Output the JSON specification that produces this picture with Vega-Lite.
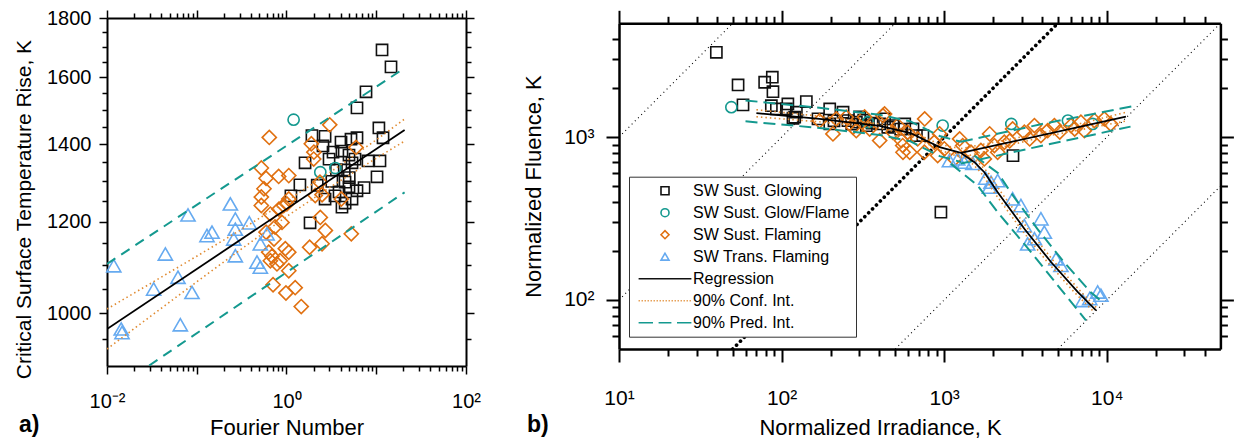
{
  "$schema": "https://vega.github.io/schema/vega-lite/v6.json",
  "background": "white",
  "padding": {"left": 13, "top": 8, "right": 0, "bottom": 0},
  "spacing": 41,
  "config": {
    "view": {"stroke": null},
    "font": "Liberation Sans",
    "axis": {"grid": false, "domainColor": "black", "tickColor": "black", "labelColor": "black", "titleColor": "black", "labelFont": "Liberation Sans", "titleFont": "Liberation Sans", "titleFontWeight": "normal", "labelFlush": false, "labelOverlap": false}
  },
  "resolve": {"scale": {"color": "independent", "shape": "independent"}},
  "datasets": {
    "apts": [
      {"F": 11.6, "T": 1689, "series": "SW Sust. Glowing"}, {"F": 14.6, "T": 1633, "series": "SW Sust. Glowing"}, {"F": 7.69, "T": 1554, "series": "SW Sust. Glowing"}, {"F": 6.1, "T": 1505, "series": "SW Sust. Glowing"}, {"F": 10.7, "T": 1446, "series": "SW Sust. Glowing"}, {"F": 11.9, "T": 1418, "series": "SW Sust. Glowing"}, {"F": 1.92, "T": 1424, "series": "SW Sust. Glowing"}, {"F": 2.69, "T": 1422, "series": "SW Sust. Glowing"}, {"F": 2.55, "T": 1395, "series": "SW Sust. Glowing"}, {"F": 4.05, "T": 1406, "series": "SW Sust. Glowing"}, {"F": 5.23, "T": 1414, "series": "SW Sust. Glowing"}, {"F": 6.1, "T": 1418, "series": "SW Sust. Glowing"}, {"F": 1.61, "T": 1349, "series": "SW Sust. Glowing"}, {"F": 2.98, "T": 1359, "series": "SW Sust. Glowing"}, {"F": 3.3, "T": 1378, "series": "SW Sust. Glowing"}, {"F": 4.15, "T": 1381, "series": "SW Sust. Glowing"}, {"F": 4.97, "T": 1370, "series": "SW Sust. Glowing"}, {"F": 5.8, "T": 1359, "series": "SW Sust. Glowing"}, {"F": 8.09, "T": 1354, "series": "SW Sust. Glowing"}, {"F": 11.0, "T": 1354, "series": "SW Sust. Glowing"}, {"F": 10.2, "T": 1312, "series": "SW Sust. Glowing"}, {"F": 1.41, "T": 1291, "series": "SW Sust. Glowing"}, {"F": 1.12, "T": 1263, "series": "SW Sust. Glowing"}, {"F": 2.69, "T": 1255, "series": "SW Sust. Glowing"}, {"F": 3.85, "T": 1273, "series": "SW Sust. Glowing"}, {"F": 4.97, "T": 1286, "series": "SW Sust. Glowing"}, {"F": 6.1, "T": 1276, "series": "SW Sust. Glowing"}, {"F": 7.31, "T": 1284, "series": "SW Sust. Glowing"}, {"F": 5.37, "T": 1255, "series": "SW Sust. Glowing"}, {"F": 4.15, "T": 1235, "series": "SW Sust. Glowing"}, {"F": 4.49, "T": 1298, "series": "SW Sust. Glowing"}, {"F": 1.83, "T": 1197, "series": "SW Sust. Glowing"}, {"F": 3.47, "T": 1263, "series": "SW Sust. Glowing"}, {"F": 4.5, "T": 1245, "series": "SW Sust. Glowing"}, {"F": 5.37, "T": 1349, "series": "SW Sust. Glowing"}, {"F": 3.6, "T": 1330, "series": "SW Sust. Glowing"}, {"F": 4.4, "T": 1330, "series": "SW Sust. Glowing"}, {"F": 3.2, "T": 1300, "series": "SW Sust. Glowing"}, {"F": 5.0, "T": 1310, "series": "SW Sust. Glowing"}, {"F": 2.2, "T": 1290, "series": "SW Sust. Glowing"},
      {"F": 1.2, "T": 1470, "series": "SW Sust. Glow/Flame"}, {"F": 2.38, "T": 1324, "series": "SW Sust. Glow/Flame"}, {"F": 3.5, "T": 1335, "series": "SW Sust. Glow/Flame"},
      {"F": 0.643, "T": 1419, "series": "SW Sust. Flaming"}, {"F": 3.03, "T": 1455, "series": "SW Sust. Flaming"}, {"F": 1.89, "T": 1401, "series": "SW Sust. Flaming"}, {"F": 2.01, "T": 1359, "series": "SW Sust. Flaming"}, {"F": 0.524, "T": 1335, "series": "SW Sust. Flaming"}, {"F": 0.592, "T": 1308, "series": "SW Sust. Flaming"}, {"F": 0.818, "T": 1313, "series": "SW Sust. Flaming"}, {"F": 1.06, "T": 1315, "series": "SW Sust. Flaming"}, {"F": 2.09, "T": 1264, "series": "SW Sust. Flaming"}, {"F": 5.95, "T": 1391, "series": "SW Sust. Flaming"}, {"F": 4.08, "T": 1255, "series": "SW Sust. Flaming"}, {"F": 0.524, "T": 1260, "series": "SW Sust. Flaming"}, {"F": 0.561, "T": 1281, "series": "SW Sust. Flaming"}, {"F": 0.524, "T": 1239, "series": "SW Sust. Flaming"}, {"F": 0.661, "T": 1218, "series": "SW Sust. Flaming"}, {"F": 0.931, "T": 1239, "series": "SW Sust. Flaming"}, {"F": 0.891, "T": 1198, "series": "SW Sust. Flaming"}, {"F": 0.592, "T": 1175, "series": "SW Sust. Flaming"}, {"F": 0.745, "T": 1187, "series": "SW Sust. Flaming"}, {"F": 0.634, "T": 1129, "series": "SW Sust. Flaming"}, {"F": 0.661, "T": 1110, "series": "SW Sust. Flaming"}, {"F": 0.783, "T": 1103, "series": "SW Sust. Flaming"}, {"F": 1.06, "T": 1129, "series": "SW Sust. Flaming"}, {"F": 0.97, "T": 1137, "series": "SW Sust. Flaming"}, {"F": 1.06, "T": 1088, "series": "SW Sust. Flaming"}, {"F": 0.708, "T": 1058, "series": "SW Sust. Flaming"}, {"F": 0.986, "T": 1041, "series": "SW Sust. Flaming"}, {"F": 1.25, "T": 1052, "series": "SW Sust. Flaming"}, {"F": 1.46, "T": 1013, "series": "SW Sust. Flaming"}, {"F": 1.81, "T": 1140, "series": "SW Sust. Flaming"}, {"F": 2.49, "T": 1148, "series": "SW Sust. Flaming"}, {"F": 2.38, "T": 1210, "series": "SW Sust. Flaming"}, {"F": 2.71, "T": 1179, "series": "SW Sust. Flaming"}, {"F": 5.27, "T": 1171, "series": "SW Sust. Flaming"}, {"F": 2.02, "T": 1378, "series": "SW Sust. Flaming"}, {"F": 2.36, "T": 1298, "series": "SW Sust. Flaming"}, {"F": 2.49, "T": 1266, "series": "SW Sust. Flaming"}, {"F": 0.824, "T": 1230, "series": "SW Sust. Flaming"}, {"F": 0.726, "T": 1159, "series": "SW Sust. Flaming"}, {"F": 0.689, "T": 1120, "series": "SW Sust. Flaming"}, {"F": 0.848, "T": 1110, "series": "SW Sust. Flaming"}, {"F": 1.01, "T": 1243, "series": "SW Sust. Flaming"}, {"F": 1.06, "T": 1255, "series": "SW Sust. Flaming"},
      {"F": 0.0119, "T": 1099, "series": "SW Trans. Flaming"}, {"F": 0.0144, "T": 969, "series": "SW Trans. Flaming"}, {"F": 0.0147, "T": 962, "series": "SW Trans. Flaming"}, {"F": 0.0447, "T": 1125, "series": "SW Trans. Flaming"}, {"F": 0.0331, "T": 1049, "series": "SW Trans. Flaming"}, {"F": 0.0618, "T": 1074, "series": "SW Trans. Flaming"}, {"F": 0.0799, "T": 1216, "series": "SW Trans. Flaming"}, {"F": 0.0656, "T": 977, "series": "SW Trans. Flaming"}, {"F": 0.0885, "T": 1042, "series": "SW Trans. Flaming"}, {"F": 0.13, "T": 1167, "series": "SW Trans. Flaming"}, {"F": 0.148, "T": 1175, "series": "SW Trans. Flaming"}, {"F": 0.237, "T": 1243, "series": "SW Trans. Flaming"}, {"F": 0.269, "T": 1206, "series": "SW Trans. Flaming"}, {"F": 0.269, "T": 1182, "series": "SW Trans. Flaming"}, {"F": 0.258, "T": 1159, "series": "SW Trans. Flaming"}, {"F": 0.269, "T": 1121, "series": "SW Trans. Flaming"}, {"F": 0.385, "T": 1197, "series": "SW Trans. Flaming"}, {"F": 0.511, "T": 1148, "series": "SW Trans. Flaming"}, {"F": 0.469, "T": 1107, "series": "SW Trans. Flaming"}, {"F": 0.511, "T": 1096, "series": "SW Trans. Flaming"}, {"F": 0.607, "T": 1171, "series": "SW Trans. Flaming"}
    ],
    "areg": [{"F": 0.01, "T": 968.7, "band": "reg"}, {"F": 20.7, "T": 1440, "band": "reg"}],
    "aconf": [
      {"F": 0.01, "T": 1008.2, "band": "upper"}, {"F": 0.0316, "T": 1062.4, "band": "upper"}, {"F": 0.1, "T": 1120, "band": "upper"}, {"F": 0.316, "T": 1181.5, "band": "upper"}, {"F": 1, "T": 1249.8, "band": "upper"}, {"F": 3.16, "T": 1326.1, "band": "upper"}, {"F": 10, "T": 1412.1, "band": "upper"}, {"F": 20.7, "T": 1471.9, "band": "upper"},
      {"F": 0.01, "T": 931, "band": "lower"}, {"F": 0.0316, "T": 995.6, "band": "lower"}, {"F": 0.1, "T": 1064.3, "band": "lower"}, {"F": 0.316, "T": 1136.5, "band": "lower"}, {"F": 1, "T": 1212.1, "band": "lower"}, {"F": 3.16, "T": 1287.2, "band": "lower"}, {"F": 10, "T": 1361.3, "band": "lower"}, {"F": 20.7, "T": 1408.7, "band": "lower"}
    ],
    "apred": [
      {"F": 0.01, "T": 1103, "band": "upper"}, {"F": 20.7, "T": 1629, "band": "upper"},
      {"F": 0.01, "T": 851, "band": "lower"}, {"F": 20.7, "T": 1272, "band": "lower"}
    ],
    "bpts": [
      {"I": 39.7, "Fl": 3319, "series": "SW Sust. Glowing"}, {"I": 54, "Fl": 2092, "series": "SW Sust. Glowing"}, {"I": 78.7, "Fl": 2173, "series": "SW Sust. Glowing"}, {"I": 87.7, "Fl": 2333, "series": "SW Sust. Glowing"}, {"I": 88.5, "Fl": 1901, "series": "SW Sust. Glowing"}, {"I": 57.9, "Fl": 1578, "series": "SW Sust. Glowing"}, {"I": 86.5, "Fl": 1560, "series": "SW Sust. Glowing"}, {"I": 109.3, "Fl": 1599, "series": "SW Sust. Glowing"}, {"I": 142, "Fl": 1652, "series": "SW Sust. Glowing"}, {"I": 120.4, "Fl": 1325, "series": "SW Sust. Glowing"}, {"I": 167.5, "Fl": 1294, "series": "SW Sust. Glowing"}, {"I": 197.7, "Fl": 1489, "series": "SW Sust. Glowing"}, {"I": 238.8, "Fl": 1422, "series": "SW Sust. Glowing"}, {"I": 256, "Fl": 1263, "series": "SW Sust. Glowing"}, {"I": 288.4, "Fl": 1235, "series": "SW Sust. Glowing"}, {"I": 332, "Fl": 1177, "series": "SW Sust. Glowing"}, {"I": 401, "Fl": 1205, "series": "SW Sust. Glowing"}, {"I": 484, "Fl": 1177, "series": "SW Sust. Glowing"}, {"I": 643, "Fl": 1123, "series": "SW Sust. Glowing"}, {"I": 123.3, "Fl": 1422, "series": "SW Sust. Glowing"}, {"I": 107, "Fl": 1489, "series": "SW Sust. Glowing"}, {"I": 92.9, "Fl": 1489, "series": "SW Sust. Glowing"}, {"I": 117.5, "Fl": 1306, "series": "SW Sust. Glowing"}, {"I": 675, "Fl": 1022, "series": "SW Sust. Glowing"}, {"I": 740, "Fl": 1022, "series": "SW Sust. Glowing"}, {"I": 430, "Fl": 1294, "series": "SW Sust. Glowing"}, {"I": 2650, "Fl": 770, "series": "SW Sust. Glowing"}, {"I": 955, "Fl": 346, "series": "SW Sust. Glowing"}, {"I": 198, "Fl": 1205, "series": "SW Sust. Glowing"}, {"I": 302, "Fl": 1330, "series": "SW Sust. Glowing"}, {"I": 572, "Fl": 1205, "series": "SW Sust. Glowing"}, {"I": 210, "Fl": 1260, "series": "SW Sust. Glowing"}, {"I": 270, "Fl": 1200, "series": "SW Sust. Glowing"}, {"I": 320, "Fl": 1270, "series": "SW Sust. Glowing"}, {"I": 360, "Fl": 1220, "series": "SW Sust. Glowing"}, {"I": 450, "Fl": 1150, "series": "SW Sust. Glowing"}, {"I": 540, "Fl": 1120, "series": "SW Sust. Glowing"},
      {"I": 49.1, "Fl": 1527, "series": "SW Sust. Glow/Flame"}, {"I": 979, "Fl": 1177, "series": "SW Sust. Glow/Flame"}, {"I": 2588, "Fl": 1205, "series": "SW Sust. Glow/Flame"}, {"I": 5768, "Fl": 1263, "series": "SW Sust. Glow/Flame"}, {"I": 340, "Fl": 1235, "series": "SW Sust. Glow/Flame"}, {"I": 8185, "Fl": 1205, "series": "SW Sust. Glow/Flame"},
      {"I": 207, "Fl": 1047, "series": "SW Sust. Flaming"}, {"I": 275, "Fl": 1151, "series": "SW Sust. Flaming"}, {"I": 401, "Fl": 952, "series": "SW Sust. Flaming"}, {"I": 420, "Fl": 1355, "series": "SW Sust. Flaming"}, {"I": 546, "Fl": 952, "series": "SW Sust. Flaming"}, {"I": 614, "Fl": 808, "series": "SW Sust. Flaming"}, {"I": 484, "Fl": 1072, "series": "SW Sust. Flaming"}, {"I": 250, "Fl": 1325, "series": "SW Sust. Flaming"}, {"I": 217, "Fl": 1294, "series": "SW Sust. Flaming"}, {"I": 558, "Fl": 808, "series": "SW Sust. Flaming"}, {"I": 430, "Fl": 1389, "series": "SW Sust. Flaming"}, {"I": 518, "Fl": 1177, "series": "SW Sust. Flaming"}, {"I": 596, "Fl": 1072, "series": "SW Sust. Flaming"}, {"I": 556, "Fl": 887, "series": "SW Sust. Flaming"}, {"I": 871, "Fl": 931, "series": "SW Sust. Flaming"}, {"I": 1002, "Fl": 847, "series": "SW Sust. Flaming"}, {"I": 1300, "Fl": 887, "series": "SW Sust. Flaming"}, {"I": 1462, "Fl": 808, "series": "SW Sust. Flaming"}, {"I": 1682, "Fl": 827, "series": "SW Sust. Flaming"}, {"I": 2037, "Fl": 887, "series": "SW Sust. Flaming"}, {"I": 2345, "Fl": 931, "series": "SW Sust. Flaming"}, {"I": 2637, "Fl": 1123, "series": "SW Sust. Flaming"}, {"I": 3112, "Fl": 1072, "series": "SW Sust. Flaming"}, {"I": 3590, "Fl": 1177, "series": "SW Sust. Flaming"}, {"I": 3936, "Fl": 1022, "series": "SW Sust. Flaming"}, {"I": 4764, "Fl": 1177, "series": "SW Sust. Flaming"}, {"I": 6026, "Fl": 1177, "series": "SW Sust. Flaming"}, {"I": 6934, "Fl": 1235, "series": "SW Sust. Flaming"}, {"I": 8395, "Fl": 1263, "series": "SW Sust. Flaming"}, {"I": 9660, "Fl": 1294, "series": "SW Sust. Flaming"}, {"I": 7279, "Fl": 1096, "series": "SW Sust. Flaming"}, {"I": 4331, "Fl": 1096, "series": "SW Sust. Flaming"}, {"I": 2133, "Fl": 808, "series": "SW Sust. Flaming"}, {"I": 1766, "Fl": 735, "series": "SW Sust. Flaming"}, {"I": 1156, "Fl": 735, "series": "SW Sust. Flaming"}, {"I": 912, "Fl": 770, "series": "SW Sust. Flaming"}, {"I": 755, "Fl": 808, "series": "SW Sust. Flaming"}, {"I": 687, "Fl": 975, "series": "SW Sust. Flaming"}, {"I": 288, "Fl": 1096, "series": "SW Sust. Flaming"}, {"I": 171, "Fl": 1258, "series": "SW Sust. Flaming"}, {"I": 324, "Fl": 1330, "series": "SW Sust. Flaming"}, {"I": 348, "Fl": 1123, "series": "SW Sust. Flaming"}, {"I": 759, "Fl": 1294, "series": "SW Sust. Flaming"}, {"I": 938, "Fl": 1047, "series": "SW Sust. Flaming"}, {"I": 1245, "Fl": 975, "series": "SW Sust. Flaming"}, {"I": 1905, "Fl": 1047, "series": "SW Sust. Flaming"}, {"I": 2530, "Fl": 948, "series": "SW Sust. Flaming"}, {"I": 3357, "Fl": 975, "series": "SW Sust. Flaming"}, {"I": 5140, "Fl": 1076, "series": "SW Sust. Flaming"}, {"I": 6350, "Fl": 1123, "series": "SW Sust. Flaming"}, {"I": 10570, "Fl": 1205, "series": "SW Sust. Flaming"},
      {"I": 1211, "Fl": 735, "series": "SW Trans. Flaming"}, {"I": 1330, "Fl": 702, "series": "SW Trans. Flaming"}, {"I": 1077, "Fl": 718, "series": "SW Trans. Flaming"}, {"I": 1941, "Fl": 529, "series": "SW Trans. Flaming"}, {"I": 2133, "Fl": 541, "series": "SW Trans. Flaming"}, {"I": 1897, "Fl": 493, "series": "SW Trans. Flaming"}, {"I": 2637, "Fl": 418, "series": "SW Trans. Flaming"}, {"I": 2965, "Fl": 380, "series": "SW Trans. Flaming"}, {"I": 3111, "Fl": 286, "series": "SW Trans. Flaming"}, {"I": 3936, "Fl": 315, "series": "SW Trans. Flaming"}, {"I": 3263, "Fl": 221, "series": "SW Trans. Flaming"}, {"I": 3590, "Fl": 238, "series": "SW Trans. Flaming"}, {"I": 4130, "Fl": 261, "series": "SW Trans. Flaming"}, {"I": 4870, "Fl": 179, "series": "SW Trans. Flaming"}, {"I": 5224, "Fl": 163, "series": "SW Trans. Flaming"}, {"I": 7112, "Fl": 99.3, "series": "SW Trans. Flaming"}, {"I": 8790, "Fl": 112, "series": "SW Trans. Flaming"}, {"I": 9204, "Fl": 107, "series": "SW Trans. Flaming"}, {"I": 7854, "Fl": 102, "series": "SW Trans. Flaming"}, {"I": 1500, "Fl": 690, "series": "SW Trans. Flaming"}, {"I": 1800, "Fl": 560, "series": "SW Trans. Flaming"}
    ],
    "breg": [
      {"I": 70, "Fl": 1403, "band": "left"}, {"I": 171, "Fl": 1294, "band": "left"}, {"I": 401, "Fl": 1172, "band": "left"}, {"I": 620, "Fl": 1060, "band": "left"}, {"I": 938, "Fl": 868, "band": "left"}, {"I": 1268, "Fl": 800, "band": "left"},
      {"I": 1268, "Fl": 800, "band": "right"}, {"I": 13120, "Fl": 1336, "band": "right"},
      {"I": 1268, "Fl": 800, "band": "down"}, {"I": 1535, "Fl": 702, "band": "down"}, {"I": 1766, "Fl": 609, "band": "down"}, {"I": 2133, "Fl": 459, "band": "down"}, {"I": 3112, "Fl": 274, "band": "down"}, {"I": 4540, "Fl": 171, "band": "down"}, {"I": 6622, "Fl": 112, "band": "down"}, {"I": 8590, "Fl": 86.3, "band": "down"}
    ],
    "bconf": [
      {"I": 70, "Fl": 1473, "band": "LU"}, {"I": 171, "Fl": 1346, "band": "LU"}, {"I": 401, "Fl": 1207, "band": "LU"}, {"I": 620, "Fl": 1095, "band": "LU"}, {"I": 938, "Fl": 903, "band": "LU"}, {"I": 1268, "Fl": 848, "band": "LU"},
      {"I": 70, "Fl": 1333, "band": "LL"}, {"I": 171, "Fl": 1242, "band": "LL"}, {"I": 401, "Fl": 1137, "band": "LL"}, {"I": 620, "Fl": 1025, "band": "LL"}, {"I": 938, "Fl": 833, "band": "LL"}, {"I": 1268, "Fl": 752, "band": "LL"},
      {"I": 1268, "Fl": 850, "band": "RU"}, {"I": 4000, "Fl": 1060, "band": "RU"}, {"I": 13120, "Fl": 1420, "band": "RU"},
      {"I": 1268, "Fl": 750, "band": "RL"}, {"I": 4000, "Fl": 1000, "band": "RL"}, {"I": 13120, "Fl": 1255, "band": "RL"},
      {"I": 1331, "Fl": 800, "band": "DR"}, {"I": 1612, "Fl": 702, "band": "DR"}, {"I": 1854, "Fl": 609, "band": "DR"}, {"I": 2240, "Fl": 459, "band": "DR"}, {"I": 3268, "Fl": 274, "band": "DR"}, {"I": 4767, "Fl": 171, "band": "DR"}, {"I": 6953, "Fl": 112, "band": "DR"}, {"I": 8800, "Fl": 88, "band": "DR"},
      {"I": 1205, "Fl": 800, "band": "DL"}, {"I": 1458, "Fl": 702, "band": "DL"}, {"I": 1678, "Fl": 609, "band": "DL"}, {"I": 2026, "Fl": 459, "band": "DL"}, {"I": 2956, "Fl": 274, "band": "DL"}, {"I": 4313, "Fl": 171, "band": "DL"}, {"I": 6291, "Fl": 112, "band": "DL"}, {"I": 8300, "Fl": 85, "band": "DL"}
    ],
    "bpred": [
      {"I": 60, "Fl": 1680, "band": "LU"}, {"I": 171, "Fl": 1514, "band": "LU"}, {"I": 401, "Fl": 1371, "band": "LU"}, {"I": 620, "Fl": 1250, "band": "LU"}, {"I": 938, "Fl": 1016, "band": "LU"}, {"I": 1268, "Fl": 936, "band": "LU"},
      {"I": 60, "Fl": 1250, "band": "LL"}, {"I": 171, "Fl": 1139, "band": "LL"}, {"I": 401, "Fl": 1031, "band": "LL"}, {"I": 620, "Fl": 943, "band": "LL"}, {"I": 938, "Fl": 764, "band": "LL"}, {"I": 1268, "Fl": 704, "band": "LL"},
      {"I": 1268, "Fl": 936, "band": "RU"}, {"I": 4000, "Fl": 1204, "band": "RU"}, {"I": 15000, "Fl": 1560, "band": "RU"},
      {"I": 1268, "Fl": 688, "band": "RL"}, {"I": 4000, "Fl": 885, "band": "RL"}, {"I": 14000, "Fl": 1160, "band": "RL"},
      {"I": 1102, "Fl": 685, "band": "DL"}, {"I": 1607, "Fl": 504, "band": "DL"}, {"I": 2133, "Fl": 346, "band": "DL"}, {"I": 3420, "Fl": 197, "band": "DL"}, {"I": 4990, "Fl": 123, "band": "DL"}, {"I": 7447, "Fl": 74.9, "band": "DL"},
      {"I": 1535, "Fl": 770, "band": "DR"}, {"I": 2150, "Fl": 600, "band": "DR"}, {"I": 2560, "Fl": 459, "band": "DR"}, {"I": 3734, "Fl": 274, "band": "DR"}, {"I": 5448, "Fl": 171, "band": "DR"}, {"I": 7946, "Fl": 112, "band": "DR"}, {"I": 9300, "Fl": 98, "band": "DR"}
    ],
    "bdiag": [
      {"I": 10, "Fl": 1000, "band": "x100"}, {"I": 50, "Fl": 5000, "band": "x100"},
      {"I": 10, "Fl": 100, "band": "x10"}, {"I": 500, "Fl": 5000, "band": "x10"},
      {"I": 500, "Fl": 50, "band": "x0.1"}, {"I": 50000, "Fl": 5000, "band": "x0.1"},
      {"I": 5000, "Fl": 50, "band": "x0.01"}, {"I": 50000, "Fl": 500, "band": "x0.01"}
    ],
    "bdiag1": [{"I": 50, "Fl": 50, "band": "x1"}, {"I": 5000, "Fl": 5000, "band": "x1"}]
  },
  "hconcat": [
    {
      "width": 359,
      "height": 348,
      "title": {"text": "a)", "orient": "bottom", "anchor": "start", "frame": "group", "dx": -88, "offset": -6, "baseline": "alphabetic", "fontSize": 23, "fontWeight": "bold", "font": "Liberation Sans", "color": "black"},
      "layer": [
        {
          "data": {"name": "apts"},
          "mark": {"type": "point", "filled": false, "strokeWidth": 1.6, "opacity": 1},
          "encoding": {
            "x": {"field": "F", "type": "quantitative", "scale": {"type": "log", "domain": [0.01, 100], "nice": false},
              "axis": {"orient": "bottom", "values": [0.01, 0.1, 1, 10, 100], "tickSize": 8, "tickWidth": 1.5, "domainWidth": 2, "labelExpr": "datum.value == 0.01 ? '10⁻²' : datum.value == 1 ? '10⁰' : datum.value == 100 ? '10²' : ''", "labelFontSize": 20, "labelBaseline": "alphabetic", "labelPadding": 33, "title": "Fourier Number", "titleFontSize": 22, "titleY": 68, "titleBaseline": "alphabetic"}},
            "y": {"field": "T", "type": "quantitative", "scale": {"type": "log", "domain": [900, 1800], "nice": false, "zero": false},
              "axis": {"orient": "left", "values": [1000, 1200, 1400, 1600, 1800], "tickSize": 8, "tickWidth": 1.5, "domainWidth": 2, "labelFontSize": 20, "labelPadding": 8, "format": "d", "title": "Critical Surface Temperature Rise, K", "titleFontSize": 21, "titleY": 191, "titlePadding": 12}},
            "color": {"field": "series", "type": "nominal", "legend": null,
              "scale": {"domain": ["SW Sust. Glowing", "SW Sust. Glow/Flame", "SW Sust. Flaming", "SW Trans. Flaming"], "range": ["#111111", "#14998f", "#e07010", "#66aaf0"]}},
            "shape": {"field": "series", "type": "nominal", "legend": null,
              "scale": {"domain": ["SW Sust. Glowing", "SW Sust. Glow/Flame", "SW Sust. Flaming", "SW Trans. Flaming"], "range": ["square", "circle", "diamond", "triangle-up"]}},
            "size": {"condition": {"test": "datum.series == 'SW Sust. Flaming' || datum.series == 'SW Trans. Flaming'", "value": 200}, "value": 125}
          }
        },
        {
          "data": {"name": "apred"},
          "mark": {"type": "line", "clip": true, "color": "#14998f", "strokeWidth": 2, "strokeDash": [10, 7]},
          "encoding": {
            "x": {"field": "F", "type": "quantitative", "scale": {"type": "log", "domain": [0.01, 100], "nice": false},
              "axis": {"orient": "bottom", "values": [0.02, 0.03, 0.04, 0.05, 0.06, 0.07, 0.08, 0.09, 0.2, 0.3, 0.4, 0.5, 0.6, 0.7, 0.8, 0.9, 2, 3, 4, 5, 6, 7, 8, 9, 20, 30, 40, 50, 60, 70, 80, 90], "tickSize": 5, "tickWidth": 1.5, "domain": false, "labels": false, "title": null}},
            "y": {"field": "T", "type": "quantitative", "scale": {"type": "log", "domain": [900, 1800], "nice": false, "zero": false},
              "axis": {"orient": "left", "values": [950, 1050, 1100, 1150, 1250, 1300, 1350, 1450, 1500, 1550, 1650, 1700, 1750], "tickSize": 5, "tickWidth": 1.5, "domain": false, "labels": false, "title": null}},
            "detail": {"field": "band"}
          }
        },
        {
          "data": {"name": "aconf"},
          "mark": {"type": "line", "clip": true, "color": "#e08a30", "strokeWidth": 1.6, "strokeDash": [1.5, 3]},
          "encoding": {
            "x": {"field": "F", "type": "quantitative", "scale": {"type": "log", "domain": [0.01, 100], "nice": false},
              "axis": {"orient": "top", "values": [0.01, 0.1, 1, 10, 100], "tickSize": 8, "tickWidth": 1.5, "domainWidth": 2, "labels": false, "title": null}},
            "y": {"field": "T", "type": "quantitative", "scale": {"type": "log", "domain": [900, 1800], "nice": false, "zero": false},
              "axis": {"orient": "right", "values": [1000, 1200, 1400, 1600, 1800], "tickSize": 8, "tickWidth": 1.5, "domainWidth": 2, "labels": false, "title": null}},
            "detail": {"field": "band"}
          }
        },
        {
          "data": {"name": "areg"},
          "mark": {"type": "line", "clip": true, "color": "black", "strokeWidth": 1.8},
          "encoding": {
            "x": {"field": "F", "type": "quantitative", "scale": {"type": "log", "domain": [0.01, 100], "nice": false},
              "axis": {"orient": "top", "values": [0.02, 0.03, 0.04, 0.05, 0.06, 0.07, 0.08, 0.09, 0.2, 0.3, 0.4, 0.5, 0.6, 0.7, 0.8, 0.9, 2, 3, 4, 5, 6, 7, 8, 9, 20, 30, 40, 50, 60, 70, 80, 90], "tickSize": 5, "tickWidth": 1.5, "domain": false, "labels": false, "title": null}},
            "y": {"field": "T", "type": "quantitative", "scale": {"type": "log", "domain": [900, 1800], "nice": false, "zero": false},
              "axis": {"orient": "right", "values": [950, 1050, 1100, 1150, 1250, 1300, 1350, 1450, 1500, 1550, 1650, 1700, 1750], "tickSize": 5, "tickWidth": 1.5, "domain": false, "labels": false, "title": null}},
            "detail": {"field": "band"}
          }
        }
      ],
      "resolve": {"axis": {"x": "independent", "y": "independent"}}
    },
    {
      "width": 601.4,
      "height": 331,
      "title": {"text": "b)", "orient": "bottom", "anchor": "start", "frame": "group", "dx": -92, "offset": -6, "baseline": "alphabetic", "fontSize": 23, "fontWeight": "bold", "font": "Liberation Sans", "color": "black"},
      "layer": [
        {
          "data": {"name": "bdiag"},
          "mark": {"type": "line", "clip": true, "color": "black", "strokeWidth": 1.1, "strokeDash": [1, 3.5]},
          "encoding": {
            "x": {"field": "I", "type": "quantitative", "scale": {"type": "log", "domain": [10, 50000], "nice": false},
              "axis": {"orient": "bottom", "values": [20, 30, 40, 50, 60, 70, 80, 90, 200, 300, 400, 500, 600, 700, 800, 900, 2000, 3000, 4000, 5000, 6000, 7000, 8000, 9000, 20000, 30000, 40000], "tickSize": 7, "tickWidth": 2, "domain": false, "labels": false, "title": null}},
            "y": {"field": "Fl", "type": "quantitative", "scale": {"type": "log", "domain": [50, 5000], "nice": false, "range": [331, 5.3]},
              "axis": {"orient": "left", "values": [60, 70, 80, 90, 200, 300, 400, 500, 600, 700, 800, 900, 2000, 3000, 4000], "tickSize": 7, "tickWidth": 2, "domain": false, "labels": false, "title": null}},
            "detail": {"field": "band"}
          }
        },
        {
          "data": {"name": "bdiag1"},
          "mark": {"type": "line", "clip": true, "color": "black", "strokeWidth": 3.6, "strokeDash": [0.1, 5.4], "strokeCap": "round"},
          "encoding": {
            "x": {"field": "I", "type": "quantitative", "scale": {"type": "log", "domain": [10, 50000], "nice": false},
              "axis": {"orient": "top", "offset": -5.3, "values": [10, 100, 1000, 10000], "tickSize": 13, "tickWidth": 2, "domainWidth": 2.5, "labels": false, "title": null}},
            "y": {"field": "Fl", "type": "quantitative", "scale": {"type": "log", "domain": [50, 5000], "nice": false, "range": [331, 5.3]},
              "axis": {"orient": "right", "values": [100, 1000], "tickSize": 13, "tickWidth": 2, "domainWidth": 2.5, "labels": false, "title": null}},
            "detail": {"field": "band"}
          }
        },
        {
          "data": {"name": "bpts"},
          "mark": {"type": "point", "filled": false, "strokeWidth": 1.6, "opacity": 1},
          "encoding": {
            "x": {"field": "I", "type": "quantitative", "scale": {"type": "log", "domain": [10, 50000], "nice": false},
              "axis": {"orient": "bottom", "values": [10, 100, 1000, 10000], "tickSize": 13, "tickWidth": 2, "domainWidth": 2.5, "labelExpr": "datum.value == 10 ? '10¹' : datum.value == 100 ? '10²' : datum.value == 1000 ? '10³' : '10⁴'", "labelFontSize": 21, "labelBaseline": "alphabetic", "labelPadding": 42, "title": "Normalized Irradiance, K", "titleFontSize": 22, "titleX": 261, "titleY": 85, "titleBaseline": "alphabetic", "titleAlign": "center"}},
            "y": {"field": "Fl", "type": "quantitative", "scale": {"type": "log", "domain": [50, 5000], "nice": false, "range": [331, 5.3]},
              "axis": {"orient": "left", "values": [100, 1000], "tickSize": 13, "tickWidth": 2, "domainWidth": 2.5, "labelExpr": "datum.value == 100 ? '10²' : '10³'", "labelFontSize": 21, "labelPadding": 12, "title": "Normalized Fluence, K", "titleFontSize": 22, "titlePadding": 18, "titleY": 168}},
            "color": {"field": "series", "type": "nominal",
              "scale": {"domain": ["SW Sust. Glowing", "SW Sust. Glow/Flame", "SW Sust. Flaming", "SW Trans. Flaming", "Regression", "90% Conf. Int.", "90% Pred. Int."], "range": ["#111111", "#14998f", "#e07010", "#66aaf0", "#111111", "#e08a30", "#14998f"]},
              "legend": {"orient": "none", "legendX": 10, "legendY": 158.7, "title": null, "padding": 6, "strokeColor": "#333333", "fillColor": "white", "symbolSize": 64, "symbolStrokeWidth": 1.6, "symbolOffset": 22, "labelOffset": 20, "labelFont": "Liberation Sans", "labelFontSize": 16, "labelColor": "black", "labelLimit": 300, "rowPadding": 6}},
            "shape": {"field": "series", "type": "nominal",
              "scale": {"domain": ["SW Sust. Glowing", "SW Sust. Glow/Flame", "SW Sust. Flaming", "SW Trans. Flaming", "Regression", "90% Conf. Int.", "90% Pred. Int."], "range": ["square", "circle", "diamond", "triangle-up", "M-6.6,0H6.6", "M-6.6,0h0.3M-5.85,0h0.3M-5.1,0h0.3M-4.35,0h0.3M-3.6,0h0.3M-2.85,0h0.3M-2.1,0h0.3M-1.35,0h0.3M-0.6,0h0.3M0.15,0h0.3M0.9,0h0.3M1.65,0h0.3M2.4,0h0.3M3.15,0h0.3M3.9,0h0.3M4.65,0h0.3M5.4,0h0.3M6.15,0h0.3", "M-6.6,0H-3M-1.6,0H1.6M3,0H6.6"]},
              "legend": {"orient": "none", "legendX": 10, "legendY": 158.7, "title": null, "padding": 6, "strokeColor": "#333333", "fillColor": "white", "symbolSize": 64, "symbolStrokeWidth": 1.6, "symbolOffset": 22, "labelOffset": 20, "labelFont": "Liberation Sans", "labelFontSize": 16, "labelColor": "black", "labelLimit": 300, "rowPadding": 6}},
            "size": {"condition": {"test": "datum.series == 'SW Sust. Flaming' || datum.series == 'SW Trans. Flaming'", "value": 200}, "value": 125}
          }
        },
        {
          "data": {"name": "bpred"},
          "mark": {"type": "line", "clip": true, "color": "#14998f", "strokeWidth": 2, "strokeDash": [12, 6]},
          "encoding": {
            "x": {"field": "I", "type": "quantitative", "scale": {"type": "log", "domain": [10, 50000], "nice": false},
              "axis": {"orient": "top", "offset": -5.3, "values": [20, 30, 40, 50, 60, 70, 80, 90, 200, 300, 400, 500, 600, 700, 800, 900, 2000, 3000, 4000, 5000, 6000, 7000, 8000, 9000, 20000, 30000, 40000], "tickSize": 7, "tickWidth": 2, "domain": false, "labels": false, "title": null}},
            "y": {"field": "Fl", "type": "quantitative", "scale": {"type": "log", "domain": [50, 5000], "nice": false, "range": [331, 5.3]},
              "axis": {"orient": "right", "values": [60, 70, 80, 90, 200, 300, 400, 500, 600, 700, 800, 900, 2000, 3000, 4000], "tickSize": 7, "tickWidth": 2, "domain": false, "labels": false, "title": null}},
            "detail": {"field": "band"}
          }
        },
        {
          "data": {"name": "bconf"},
          "mark": {"type": "line", "clip": true, "color": "#e08a30", "strokeWidth": 1.6, "strokeDash": [1.5, 3]},
          "encoding": {
            "x": {"field": "I", "type": "quantitative", "scale": {"type": "log", "domain": [10, 50000], "nice": false}, "axis": null},
            "y": {"field": "Fl", "type": "quantitative", "scale": {"type": "log", "domain": [50, 5000], "nice": false, "range": [331, 5.3]}, "axis": null},
            "detail": {"field": "band"}
          }
        },
        {
          "data": {"name": "breg"},
          "mark": {"type": "line", "clip": true, "color": "black", "strokeWidth": 1.8},
          "encoding": {
            "x": {"field": "I", "type": "quantitative", "scale": {"type": "log", "domain": [10, 50000], "nice": false}, "axis": null},
            "y": {"field": "Fl", "type": "quantitative", "scale": {"type": "log", "domain": [50, 5000], "nice": false, "range": [331, 5.3]}, "axis": null},
            "detail": {"field": "band"}
          }
        }
      ],
      "resolve": {"axis": {"x": "independent", "y": "independent"}}
    }
  ]
}
